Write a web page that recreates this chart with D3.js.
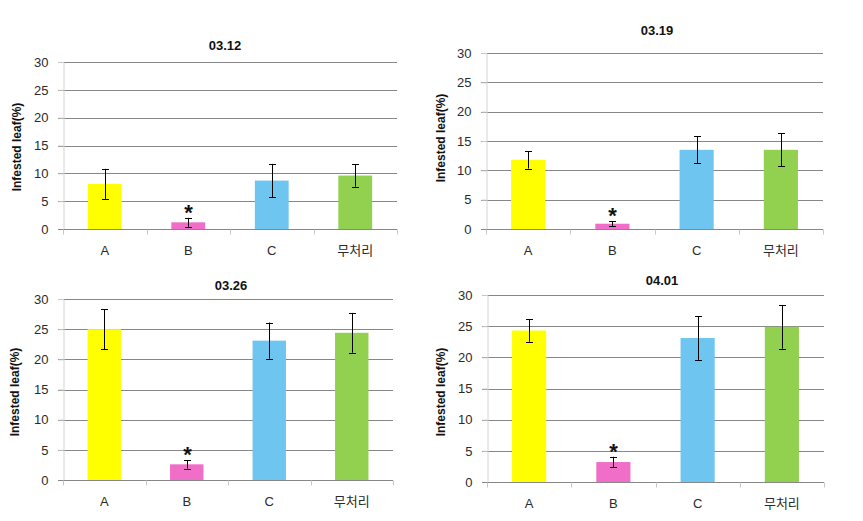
<!DOCTYPE html>
<html>
<head>
<meta charset="utf-8">
<script src="https://cdn.jsdelivr.net/npm/d3@7/dist/d3.min.js"></script>
<style>
  html, body { margin: 0; padding: 0; background: #ffffff; }
  svg { display: block; }
</style>
</head>
<body>
<svg id="chart" width="863" height="521"></svg>
<script>
// ---- data ----
const categories = ["A", "B", "C", "무처리"];
const dates = ["03.12", "03.19", "03.26", "04.01"];
const values0312 = [8.1, 1.2, 8.7, 9.6];
const errors0312 = [2.7, 0.8, 3.0, 2.0];
const values0319 = [11.8, 0.9, 13.5, 13.5];
const errors0319 = [1.5, 0.4, 2.3, 2.8];
const values0326 = [25.0, 2.6, 23.1, 24.4];
const errors0326 = [3.3, 0.7, 3.0, 3.3];
const values0401 = [24.3, 3.2, 23.1, 24.9];
const errors0401 = [1.8, 0.85, 3.5, 3.5];
const significant = [false, true, false, false];
const yTicks = [0, 5, 10, 15, 20, 25, 30];
const yLabel = "Infested leaf(%)";
const barColors = ["#ffff00", "#f06ec8", "#6ec6f0", "#92d050"];

const seriesByPanel = [
  { values: values0312, errors: errors0312 },
  { values: values0319, errors: errors0319 },
  { values: values0326, errors: errors0326 },
  { values: values0401, errors: errors0401 }
];

// ---- layout (positions only) ----
const layout = [
  { left: 63,  right: 397, top: 62,  bottom: 229, titleX: 225, titleY: 45,  labX: 17,  labY: 147 },
  { left: 486, right: 823, top: 53,  bottom: 229, titleX: 657, titleY: 30,  labX: 441, labY: 138 },
  { left: 63,  right: 393, top: 299, bottom: 480, titleX: 231, titleY: 285, labX: 15,  labY: 392 },
  { left: 487, right: 824, top: 295, bottom: 482, titleX: 662, titleY: 280, labX: 441, labY: 392 }
];

const svg = d3.select("#chart");
const font = "'Liberation Sans', Arial, 'Noto Sans CJK KR', sans-serif";
const gridColor = "#878787";

layout.forEach((L, i) => {
  const data = seriesByPanel[i];
  const g = svg.append("g");

  const x = d3.scaleBand().domain(categories).range([L.left, L.right]).padding(0);
  const y = d3.scaleLinear().domain([0, 30]).range([L.bottom, L.top]);
  const barW = x.bandwidth() * 0.405;

  // gridlines (including tick stubs to the left)
  g.append("g").selectAll("line").data(yTicks.filter(t => t > 0)).join("line")
    .attr("x1", L.left - 5).attr("x2", L.right)
    .attr("y1", d => Math.round(y(d)) + 0.5).attr("y2", d => Math.round(y(d)) + 0.5)
    .attr("stroke", gridColor).attr("stroke-width", 1);

  // y axis
  const yAxis = d3.axisLeft(y).tickValues(yTicks).tickSize(5).tickPadding(10);
  const ya = g.append("g").attr("transform", `translate(${L.left + 0.5},0)`).call(yAxis);
  ya.select(".domain").attr("stroke", "#d4d4d4");
  ya.selectAll(".tick line").attr("stroke", "#c8c8c8");
  ya.selectAll(".tick text").attr("font-family", font).attr("font-size", 13).attr("fill", "#2a2a2a");

  // bars
  g.append("g").selectAll("rect").data(categories).join("rect")
    .attr("x", d => x(d) + (x.bandwidth() - barW) / 2)
    .attr("width", barW)
    .attr("y", (d, j) => y(data.values[j]))
    .attr("height", (d, j) => y(0) - y(data.values[j]))
    .attr("fill", (d, j) => barColors[j]);

  // x axis
  const xa = g.append("g").attr("transform", `translate(0,${Math.round(L.bottom) + 0.5})`);
  xa.append("line").attr("x1", L.left - 5).attr("x2", L.right).attr("stroke", gridColor);
  const bounds = [L.left, ...categories.map(c => x(c) + x.bandwidth())];
  xa.selectAll("line.tk").data(bounds).join("line").attr("class", "tk")
    .attr("x1", d => Math.round(d) + 0.5).attr("x2", d => Math.round(d) + 0.5)
    .attr("y1", 0).attr("y2", 5).attr("stroke", "#c8c8c8");
  xa.selectAll("text").data(categories).join("text")
    .attr("x", d => x(d) + x.bandwidth() / 2)
    .attr("y", 21).attr("dy", "0.35em")
    .attr("text-anchor", "middle")
    .attr("font-family", font).attr("font-size", 13).attr("fill", "#2a2a2a")
    .text(d => d);

  // error bars
  const eb = g.append("g").attr("stroke", "#000").attr("stroke-width", 1);
  categories.forEach((c, j) => {
    const cx = Math.round(x(c) + x.bandwidth() / 2) + 0.5;
    const hi = y(data.values[j] + data.errors[j]);
    const lo = y(data.values[j] - data.errors[j]);
    eb.append("line").attr("x1", cx).attr("x2", cx).attr("y1", hi).attr("y2", lo);
    eb.append("line").attr("x1", cx - 3.5).attr("x2", cx + 3.5).attr("y1", Math.round(hi) + 0.5).attr("y2", Math.round(hi) + 0.5);
    eb.append("line").attr("x1", cx - 3.5).attr("x2", cx + 3.5).attr("y1", Math.round(lo) + 0.5).attr("y2", Math.round(lo) + 0.5);
    if (significant[j]) {
      g.append("text")
        .attr("x", cx).attr("y", hi + 2)
        .attr("text-anchor", "middle")
        .attr("font-family", font).attr("font-weight", "bold").attr("font-size", 22).attr("fill", "#111")
        .text("*");
    }
  });

  // title
  g.append("text")
    .attr("x", L.titleX).attr("y", L.titleY).attr("dy", "0.35em")
    .attr("text-anchor", "middle")
    .attr("font-family", font).attr("font-weight", "bold").attr("font-size", 13).attr("fill", "#111")
    .text(dates[i]);

  // y label
  g.append("text")
    .attr("transform", `translate(${L.labX},${L.labY}) rotate(-90)`)
    .attr("dy", "0.35em")
    .attr("text-anchor", "middle")
    .attr("font-family", font).attr("font-weight", "bold").attr("font-size", 12).attr("fill", "#111")
    .text(yLabel);
});
</script>
</body>
</html>
